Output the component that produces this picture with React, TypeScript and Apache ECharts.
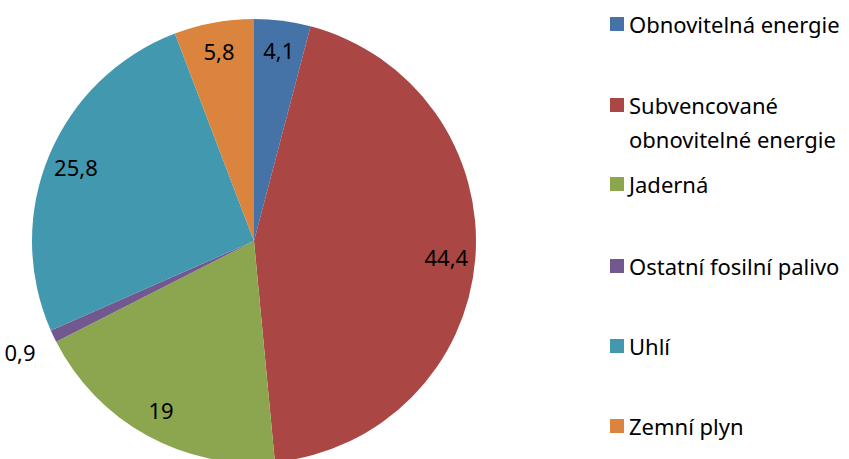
import React, { useEffect, useRef } from "react";
import * as echarts from "echarts";

const categories = [
  "Obnovitelná energie",
  "Subvencované obnovitelné energie",
  "Jaderná",
  "Ostatní fosilní palivo",
  "Uhlí",
  "Zemní plyn",
];
const legendLabels = [
  "Obnovitelná energie",
  "\nSubvencované\nobnovitelné energie",
  "Jaderná",
  "Ostatní fosilní palivo",
  "Uhlí",
  "Zemní plyn",
];
const values = [4.1, 44.4, 19, 0.9, 25.8, 5.8];
const colors = ["#4573A7", "#AA4643", "#8BA64F", "#71588F", "#4198AF", "#DB843D"];
const outsideLabelCats = ["Ostatní fosilní palivo"];

const FONT = "'Noto Sans', 'Open Sans', sans-serif";
const legendTops = [2, 49, 162, 244, 324, 404];

const fmt = (v: number) => String(v).replace(".", ",");

export default function App() {
  const ref = useRef<HTMLDivElement>(null);
  useEffect(() => {
    if (!ref.current) return;
    const chart = echarts.init(ref.current, undefined, { renderer: "svg" });
    const center = [254, 241];
    const base = categories.map((c, i) => ({ name: c, value: values[i] }));
    chart.setOption({
      animation: false,
      color: colors,
      legend: categories.map((c, i) => ({
        data: [c],
        left: 605,
        top: legendTops[i],
        orient: "vertical",
        icon: "rect",
        itemWidth: 14,
        itemHeight: 14,
        selectedMode: false,
        formatter: () => legendLabels[i],
        textStyle: {
          fontFamily: FONT,
          fontSize: 22,
          lineHeight: 34,
          color: "#000",
        },
      })),
      series: [
        {
          type: "pie",
          center,
          radius: 222,
          startAngle: 90,
          clockwise: true,
          silent: true,
          emphasis: { disabled: true },
          label: { show: false },
          labelLine: { show: false },
          itemStyle: { borderWidth: 0 },
          data: base.map((d, i) => ({ ...d, itemStyle: { color: colors[i] } })),
        },
        {
          type: "pie",
          center,
          radius: [158, 222],
          startAngle: 90,
          clockwise: true,
          silent: true,
          emphasis: { disabled: true },
          itemStyle: { color: "transparent", borderWidth: 0 },
          labelLine: { show: false },
          label: {
            show: true,
            position: "inside",
            fontFamily: FONT,
            fontSize: 22,
            color: "#000",
            formatter: (p: any) => fmt(p.value),
          },
          data: base.map((d) => ({
            ...d,
            label: { show: !outsideLabelCats.includes(d.name) },
          })),
        },
        {
          type: "pie",
          center,
          radius: [234, 278],
          startAngle: 90,
          clockwise: true,
          silent: true,
          emphasis: { disabled: true },
          itemStyle: { color: "transparent", borderWidth: 0 },
          labelLine: { show: false },
          label: {
            show: true,
            position: "inside",
            fontFamily: FONT,
            fontSize: 22,
            color: "#000",
            formatter: (p: any) => fmt(p.value),
          },
          data: base.map((d) => ({
            ...d,
            label: { show: outsideLabelCats.includes(d.name) },
          })),
        },
      ],
    });
    return () => chart.dispose();
  }, []);
  return (
    <div
      ref={ref}
      style={{ position: "fixed", left: 0, top: 0, width: 849, height: 459, background: "#fff" }}
    />
  );
}
